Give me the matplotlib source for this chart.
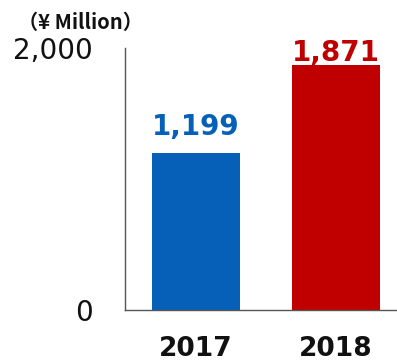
import matplotlib.pyplot as plt

# Sales by fiscal year (¥ million)
years = ['2017', '2018']
sales = [1199, 1871]
bar_colors = ['#0760B8', '#C00000']
label_pad = [13, 3]          # gap between bar top and value label, in points

y_ticks = [0, 2000]
y_tick_labels = ['0', '2,000']

fig = plt.figure(figsize=(3.97, 3.64), dpi=100)
ax = fig.add_axes([125 / 397, 54 / 364, 272 / 397, 262 / 364])

x = range(len(years))
bars = ax.bar(x, sales, width=0.63, color=bar_colors)

ax.set_xlim(-0.507, 1.436)
ax.set_ylim(0, 2000)

for spine in ['top', 'right']:
    ax.spines[spine].set_visible(False)
for spine in ['left', 'bottom']:
    ax.spines[spine].set_color('#555555')
    ax.spines[spine].set_linewidth(1.0)

ax.set_yticks(y_ticks)
ax.set_yticklabels(y_tick_labels, fontsize=20, color='#111111')
ax.tick_params(axis='y', length=0, pad=23)
ax.set_xticks([])

# value labels above each bar
for xi, val, col, pad in zip(x, sales, bar_colors, label_pad):
    ax.annotate(f'{val:,}', xy=(xi, val), xytext=(0, pad),
                textcoords='offset points', ha='center', va='baseline',
                fontsize=20, fontweight='bold', color=col)

# year labels under the axis
for xi, yr in zip(x, years):
    ax.annotate(yr, xy=(xi, 0), xycoords=('data', 'axes fraction'),
                xytext=(0, -33), textcoords='offset points',
                ha='center', va='baseline', fontsize=19,
                fontweight='bold', color='#111111')

fig.text(80 / 397, 1 - 22 / 364, '（¥ Million）', ha='center', va='center',
         fontsize=14.5, fontweight='bold', color='#111111',
         family=['Noto Sans CJK JP', 'DejaVu Sans'])

fig.savefig('out.png', dpi=100)
